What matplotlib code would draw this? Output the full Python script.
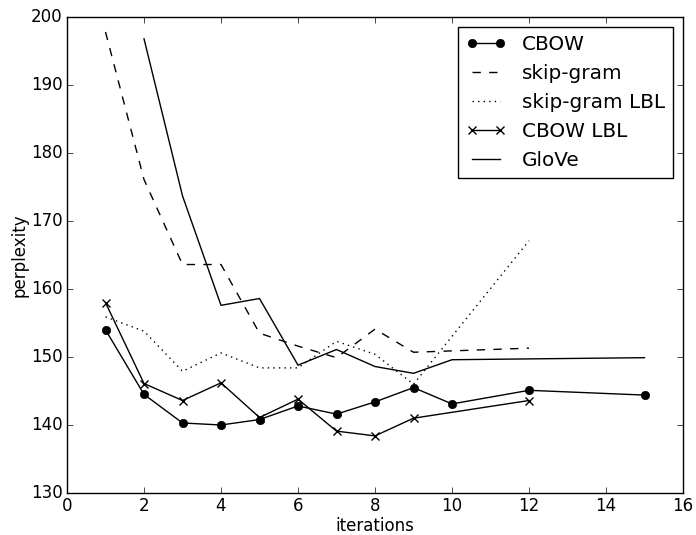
import matplotlib
matplotlib.use('Agg')
import matplotlib.pyplot as plt

plt.style.use('classic')

# iterations per model
cbow_x = [1, 2, 3, 4, 5, 6, 7, 8, 9, 10, 12, 15]
cbow_y = [154.0, 144.5, 140.3, 140.0, 140.8, 142.8, 141.6, 143.4, 145.5, 143.1, 145.1, 144.4]

sg_x = [1, 2, 3, 4, 5, 6, 7, 8, 9, 10, 12]
sg_y = [197.8, 176.1, 163.6, 163.6, 153.5, 151.6, 149.9, 154.1, 150.7, 150.9, 151.3]

sglbl_x = [1, 2, 3, 4, 5, 6, 7, 8, 9, 12]
sglbl_y = [155.9, 153.8, 147.9, 150.6, 148.4, 148.4, 152.3, 150.4, 146.0, 167.1]

cbowlbl_x = [1, 2, 3, 4, 5, 6, 7, 8, 9, 12]
cbowlbl_y = [158.0, 146.1, 143.6, 146.2, 141.1, 143.8, 139.1, 138.4, 141.0, 143.6]

glove_x = [2, 3, 4, 5, 6, 7, 8, 9, 10, 15]
glove_y = [196.8, 173.7, 157.6, 158.6, 148.8, 151.1, 148.6, 147.6, 149.6, 149.9]

fig = plt.figure(figsize=(6.96, 5.35), dpi=100)
ax = fig.add_axes([67 / 696, 1 - 493 / 535, 616 / 696, 476 / 535])

ax.plot(cbow_x, cbow_y, 'k-', marker='o', label='CBOW')
ax.plot(sg_x, sg_y, 'k--', label='skip-gram')
ax.plot(sglbl_x, sglbl_y, 'k:', label='skip-gram LBL')
ax.plot(cbowlbl_x, cbowlbl_y, 'k-', marker='x', mew=1, label='CBOW LBL')
ax.plot(glove_x, glove_y, 'k-', label='GloVe')

ax.set_xlim(0, 16)
ax.set_ylim(130, 200)
ax.tick_params(pad=3)
ax.set_xlabel('iterations', labelpad=1)
ax.set_ylabel('perplexity', labelpad=2)
ax.legend(loc='upper right')

fig.savefig('out.png', dpi=100)
